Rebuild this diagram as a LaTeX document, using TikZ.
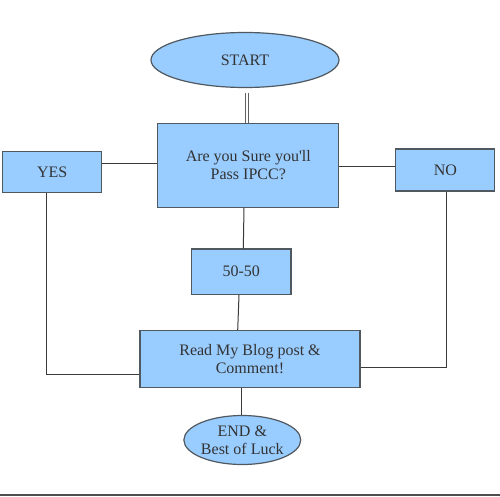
\documentclass[tikz,border=0pt]{standalone}
\usepackage{fontspec}
\setmainfont{Liberation Serif}[Ligatures=TeX]
\newfontfamily\diagserif{Liberation Serif}
\usetikzlibrary{shapes.geometric}
\definecolor{boxfill}{HTML}{99CCFF}
\definecolor{boxline}{HTML}{505860}
\definecolor{txt}{HTML}{333333}
\definecolor{conn}{HTML}{3A3A3A}
\tikzset{
  base/.style={draw=boxline, line width=1.2pt, fill=boxfill, text=txt, align=center, inner sep=0pt,
    font=\diagserif\fontsize{16}{18.4}\selectfont},
  boxnode/.style={base, rectangle},
  ovalnode/.style={base, ellipse},
  conline/.style={draw=conn, line width=1pt},
}
\begin{document}
\begin{tikzpicture}[x=1pt,y=-1pt]
\useasboundingbox (0,0) rectangle (500,497);
\fill[white] (0,0) rectangle (500,497);
\node[ovalnode, minimum width=188pt, minimum height=55pt] (start) at (245,60) {START};
\node[boxnode, minimum width=181pt, minimum height=84pt] (q) at (248.3,165.3) {Are you Sure you\char39 ll\\Pass IPCC?};
\node[boxnode, minimum width=99pt, minimum height=41pt] (yes) at (52.2,172.2) {YES};
\node[boxnode, minimum width=99pt, minimum height=42pt] (no) at (445.3,170) {NO};
\node[boxnode, minimum width=99.3pt, minimum height=45.3pt] (fifty) at (241.3,271.7) {50-50};
\node[boxnode, minimum width=220pt, minimum height=56.6pt] (read) at (250,359) {Read My Blog post \&\\Comment!};
\node[ovalnode, minimum width=113pt, minimum height=49pt] (end) at (242.3,440) {END \&\\Best of Luck};
\coordinate (bl) at (0,495);
\coordinate (br) at (500,495);

\draw[draw=conn!80, line width=0.9pt]
  ([shift={(0.8pt,-5pt)}]start.south) -- ([xshift=0.8pt]start.south |- q.north);
\draw[draw=conn!80, line width=0.9pt]
  ([shift={(3.4pt,-5pt)}]start.south) -- ([xshift=3.4pt]start.south |- q.north);
\draw[conline] ([yshift=8.5pt]yes.east) -- ([yshift=8.5pt]yes.east -| q.west);
\draw[conline] ([yshift=3.3pt]no.west) -- ([yshift=3.3pt]no.west -| q.east);
\draw[conline] ([xshift=-4.3pt]q.south) -- ([xshift=2pt]fifty.north);
\draw[conline] ([xshift=-2.3pt]fifty.south) -- ([xshift=-12.3pt]read.north);
\draw[conline] ([xshift=-5.5pt]yes.south) |- ([yshift=-15.5pt]read.west);
\draw[conline] ([xshift=1.4pt]no.south) |- ([yshift=-8.3pt]read.east);
\draw[conline] ([xshift=-8.3pt]read.south) -- ([xshift=-0.6pt]end.north);
\draw[draw=conn!90, line width=1.6pt] (bl) -- (br);
\end{tikzpicture}
\end{document}
